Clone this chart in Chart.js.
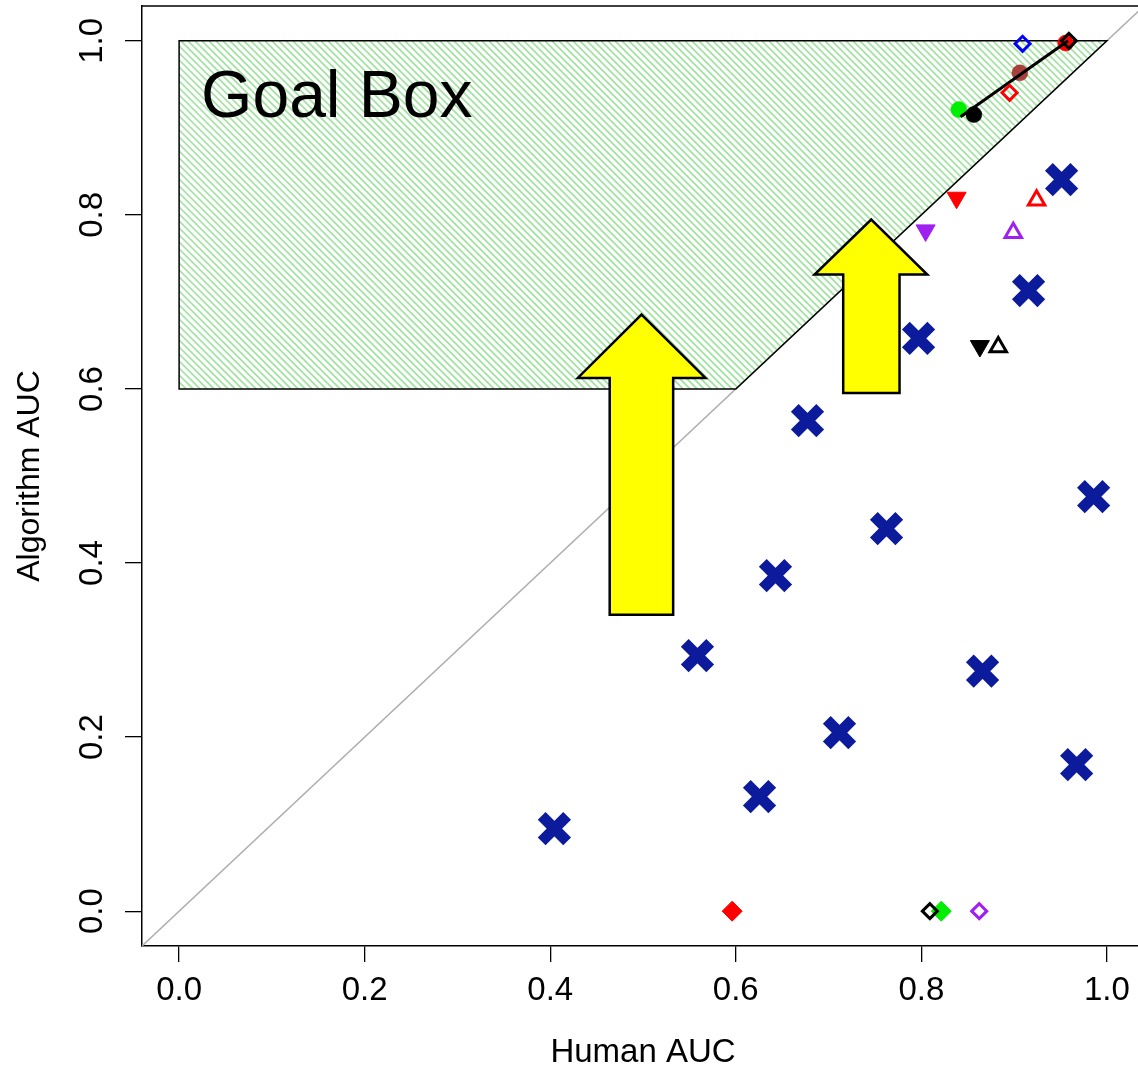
<!DOCTYPE html>
<html lang="en">
<head>
  <meta charset="UTF-8" />
  <title>Human AUC vs Algorithm AUC</title>
  <script src="https://cdn.jsdelivr.net/npm/chart.js"></script>
  <style>
    html, body {
      margin: 0;
      padding: 0;
      overflow: hidden;
      background: #fff;
    }
    canvas {
      display: block;
    }
  </style>
</head>
<body>
  <canvas id="aucChart" width="1146" height="1073"></canvas>

  <script>
    // tick values
    const xTicks = [0, 0.2, 0.4, 0.6, 0.8, 1.0];
    const yTicks = [0, 0.2, 0.4, 0.6, 0.8, 1.0];

    // big blue crosses
    const crossHuman = [0.4045, 0.5587, 0.6256, 0.6428, 0.6773, 0.7118, 0.7625, 0.7970, 0.8660, 0.9156, 0.9512, 0.9674, 0.9857];
    const crossAlgo  = [0.0948, 0.2936, 0.1316, 0.3855, 0.5636, 0.2051, 0.4395, 0.6582, 0.2758, 0.7131, 0.8406, 0.1684, 0.4763];

    // open diamonds (black, black, blue, red, purple)
    const openDiamondHuman = [0.9590, 0.8092, 0.9091, 0.8951, 0.8624];
    const openDiamondAlgo  = [1.0000, 0.0000, 0.9966, 0.9403, 0.0000];

    // filled diamonds (red, green)
    const solidDiamondHuman = [0.5961, 0.8215];
    const solidDiamondAlgo  = [0.0000, 0.0000];

    // filled circles (red, green, black, brown)
    const circleHuman = [0.9555, 0.8404, 0.8566, 0.9062];
    const circleAlgo  = [0.9974, 0.9210, 0.9153, 0.9632];

    // filled down triangles (red, purple, black)
    const downTriHuman = [0.8380, 0.8046, 0.8631];
    const downTriAlgo  = [0.8197, 0.7822, 0.6493];

    // open up triangles (red, purple, black)
    const upTriHuman = [0.9242, 0.8991, 0.8829];
    const upTriAlgo  = [0.8167, 0.7795, 0.6481];

    // connecting segment
    const segHuman = [0.8423, 0.9582];
    const segAlgo  = [0.9128, 1.0000];

    // goal box outline
    const goalBoxHuman = [0, 0, 1, 0.6];
    const goalBoxAlgo  = [0.6, 1, 1, 0.6];

    // yellow arrows
    const arrow1Human = [0.4641, 0.4641, 0.4297, 0.4984, 0.5673, 0.5325, 0.5325];
    const arrow1Algo  = [0.3407, 0.6127, 0.6127, 0.6855, 0.6127, 0.6127, 0.3407];
    const arrow2Human = [0.7158, 0.7158, 0.6849, 0.7460, 0.8064, 0.7765, 0.7765];
    const arrow2Algo  = [0.5955, 0.7314, 0.7314, 0.7946, 0.7314, 0.7314, 0.5955];

    // diagonal y = x
    const diagHuman = [-0.04, 1.04];
    const diagAlgo  = [-0.04, 1.04];

    const FONT = '"Liberation Sans", Arial, Helvetica, sans-serif';
    const RED = '#ff0000', GREEN = '#00ee00', BLUE = '#0000ff', PURPLE = '#a020f0', BLACK = '#000000';
    const NAVY = '#0b1b9b';
    const BROWN = 'rgba(160,40,38,0.88)';

    function zip(xs, ys) {
      return xs.map((x, i) => ({ x, y: ys[i] }));
    }

    function tracePoly(ctx, xs, ys, hx, hy) {
      ctx.beginPath();
      hx.forEach((v, i) => {
        const px = xs.getPixelForValue(v);
        const py = ys.getPixelForValue(hy[i]);
        if (i === 0) ctx.moveTo(px, py); else ctx.lineTo(px, py);
      });
      ctx.closePath();
    }

    const decorPlugin = {
      id: 'decor',
      afterDatasetDraw(chart, args) {
        if (args.index !== 0) return;
        const ctx = chart.ctx;
        const xs = chart.scales.x, ys = chart.scales.y;

        // goal box with hatching
        ctx.save();
        tracePoly(ctx, xs, ys, goalBoxHuman, goalBoxAlgo);
        ctx.clip();
        const x0 = xs.getPixelForValue(0), x1 = xs.getPixelForValue(1);
        const y0 = ys.getPixelForValue(1), y1 = ys.getPixelForValue(0.6);
        const h = y1 - y0;
        ctx.strokeStyle = '#a0e4a0';
        ctx.lineWidth = 1.7;
        ctx.beginPath();
        for (let c = x0 - h; c <= x1 + h; c += 7) {
          ctx.moveTo(c, y0);
          ctx.lineTo(c + h, y1);
        }
        ctx.stroke();
        ctx.restore();

        ctx.save();
        tracePoly(ctx, xs, ys, goalBoxHuman, goalBoxAlgo);
        ctx.strokeStyle = '#000';
        ctx.lineWidth = 1.5;
        ctx.stroke();

        // Goal Box label
        ctx.fillStyle = '#000';
        ctx.font = '66px ' + FONT;
        ctx.textAlign = 'center';
        ctx.textBaseline = 'alphabetic';
        ctx.fillText('Goal Box', xs.getPixelForValue(0.170), ys.getPixelForValue(0.912));

        // arrows
        ctx.lineJoin = 'miter';
        ctx.lineWidth = 2.5;
        ctx.fillStyle = '#ffff00';
        ctx.strokeStyle = '#000';
        [[arrow1Human, arrow1Algo], [arrow2Human, arrow2Algo]].forEach(([hx, hy]) => {
          tracePoly(ctx, xs, ys, hx, hy);
          ctx.fill();
          ctx.stroke();
        });
        ctx.restore();
      },
      afterDraw(chart) {
        // top edge of the plot box
        const { ctx, chartArea } = chart;
        ctx.save();
        ctx.strokeStyle = '#000';
        ctx.lineWidth = 1.5;
        ctx.beginPath();
        ctx.moveTo(chartArea.left, chartArea.top);
        ctx.lineTo(chartArea.right, chartArea.top);
        ctx.stroke();
        ctx.restore();
      }
    };

    const pointBase = { showLine: false, pointHoverRadius: 0 };

    new Chart(document.getElementById('aucChart'), {
      type: 'scatter',
      data: {
        datasets: [
          {
            label: 'Diagonal',
            data: zip(diagHuman, diagAlgo),
            showLine: true,
            order: 99,
            borderColor: '#adadad',
            borderWidth: 1.5,
            pointRadius: 0
          },
          {
            ...pointBase,
            label: 'Open diamonds',
            data: zip(openDiamondHuman, openDiamondAlgo),
            pointStyle: 'rectRot',
            pointRadius: 7.5,
            pointBorderWidth: 3,
            pointBackgroundColor: 'rgba(0,0,0,0)',
            pointBorderColor: [BLACK, BLACK, BLUE, RED, PURPLE]
          },
          {
            label: 'Segment',
            data: zip(segHuman, segAlgo),
            showLine: true,
            borderColor: '#000',
            borderWidth: 3,
            pointRadius: 0
          },
          {
            ...pointBase,
            label: 'Circles',
            data: zip(circleHuman, circleAlgo),
            pointStyle: 'circle',
            pointRadius: 8,
            pointBorderWidth: 0.5,
            pointBackgroundColor: [RED, GREEN, BLACK, BROWN],
            pointBorderColor: [RED, GREEN, BLACK, BROWN]
          },
          {
            ...pointBase,
            label: 'Filled diamonds',
            data: zip(solidDiamondHuman, solidDiamondAlgo),
            pointStyle: 'rectRot',
            pointRadius: 10,
            pointBorderWidth: 1,
            pointBackgroundColor: [RED, GREEN],
            pointBorderColor: [RED, GREEN]
          },
          {
            ...pointBase,
            label: 'Down triangles',
            data: zip(downTriHuman, downTriAlgo),
            pointStyle: 'triangle',
            rotation: 180,
            pointRadius: 11,
            pointBorderWidth: 1,
            pointBackgroundColor: [RED, PURPLE, BLACK],
            pointBorderColor: [RED, PURPLE, BLACK]
          },
          {
            ...pointBase,
            label: 'Up triangles',
            data: zip(upTriHuman, upTriAlgo),
            pointStyle: 'triangle',
            pointRadius: 9.5,
            pointBorderWidth: 3,
            pointBackgroundColor: 'rgba(0,0,0,0)',
            pointBorderColor: [RED, PURPLE, BLACK]
          },
          {
            ...pointBase,
            label: 'Crosses',
            data: zip(crossHuman, crossAlgo),
            pointStyle: 'crossRot',
            pointRadius: 18,
            pointBorderWidth: 11,
            pointBorderColor: NAVY,
            pointBackgroundColor: NAVY
          }
        ]
      },
      options: {
        responsive: false,
        animation: false,
        events: [],
        layout: { autoPadding: false, padding: { top: 6, right: 2, left: 0, bottom: 0 } },
        plugins: {
          legend: { display: false },
          tooltip: { enabled: false }
        },
        scales: {
          x: {
            type: 'linear',
            min: -0.04,
            max: 1.04,
            afterBuildTicks: s => { s.ticks = xTicks.map(v => ({ value: v })); },
            afterFit: s => { s.height = 127; s.paddingLeft = 0; s.paddingRight = 0; },
            grid: { drawOnChartArea: false, tickLength: 16, color: '#000', lineWidth: 1.3 },
            border: { color: '#000', width: 1.5 },
            ticks: {
              color: '#000',
              font: { family: FONT, size: 33 },
              padding: 9,
              autoSkip: false,
              maxRotation: 0,
              callback: v => v.toFixed(1)
            },
            title: {
              display: true,
              text: 'Human AUC',
              color: '#000',
              font: { family: FONT, size: 33 },
              padding: { top: 0, bottom: 0 }
            }
          },
          y: {
            type: 'linear',
            min: -0.04,
            max: 1.04,
            afterBuildTicks: s => { s.ticks = yTicks.map(v => ({ value: v })); },
            afterFit: s => { s.width = 142; s.paddingTop = 0; s.paddingBottom = 0; },
            grid: { drawOnChartArea: false, tickLength: 17, color: '#000', lineWidth: 1.3 },
            border: { color: '#000', width: 1.5 },
            ticks: {
              color: '#000',
              font: { family: FONT, size: 33 },
              padding: 9,
              autoSkip: false,
              minRotation: 90,
              maxRotation: 90,
              crossAlign: 'center',
              callback: v => v.toFixed(1)
            },
            title: {
              display: true,
              text: 'Algorithm AUC',
              color: '#000',
              font: { family: FONT, size: 32 },
              padding: { top: 11, bottom: 0 }
            }
          }
        }
      },
      plugins: [decorPlugin]
    });
  </script>
</body>
</html>
